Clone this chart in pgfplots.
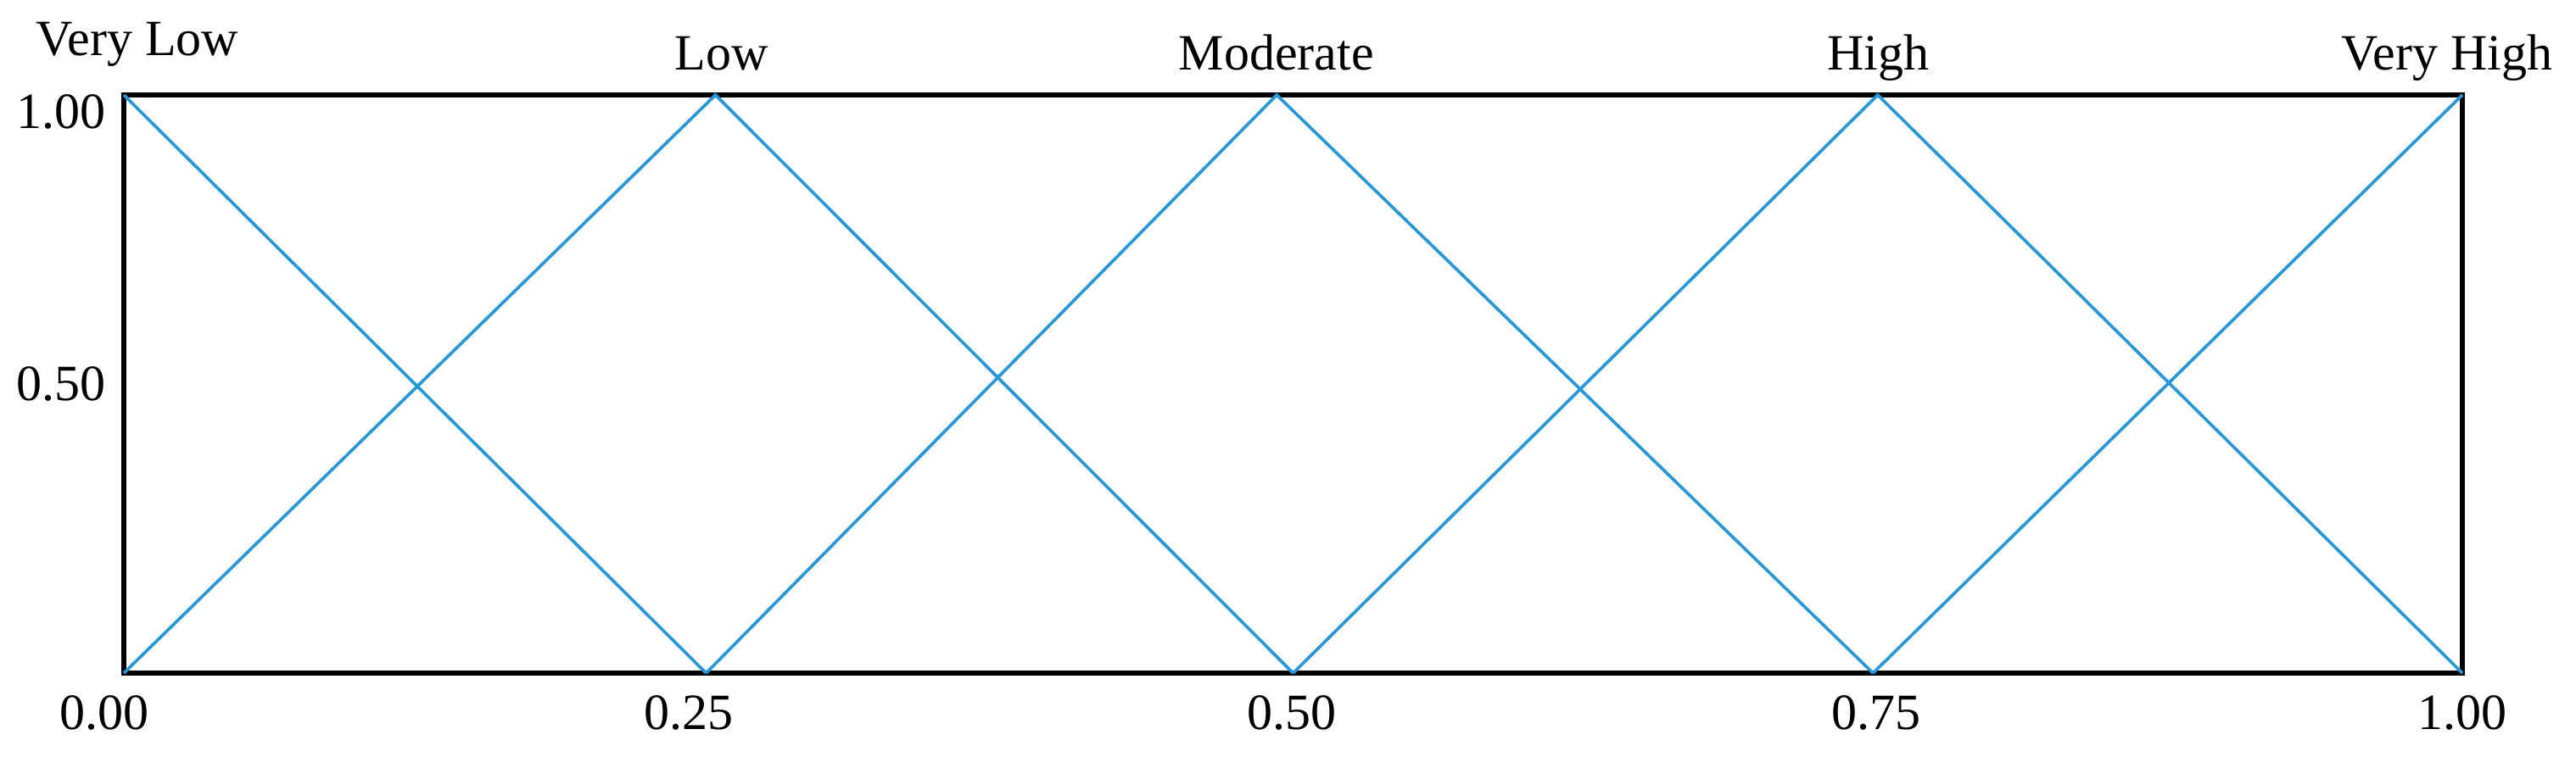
\documentclass[border=0pt]{standalone}
\usepackage{fontspec}
\setmainfont{Liberation Serif}
\usepackage{pgfplots}
\pgfplotsset{compat=1.18}
\definecolor{mfblue}{RGB}{35,152,220}
\begin{document}
\begin{tikzpicture}[font=\fontsize{15}{18}\selectfont]
\useasboundingbox (-36.5pt,-24.5pt) rectangle (722.75pt,198.5pt);
\begin{axis}[
  at={(0,0)}, anchor=south west,
  scale only axis, width=689.25pt, height=170.5pt,
  xmin=0, xmax=1, ymin=0, ymax=1,
  clip=false,
  axis line style={line width=1.3pt, black},
  major tick length=0pt,
  xtick={0,0.2416,0.4995,0.7494,1},
  xticklabels={\hspace*{-11.5pt}0.00,0.25,0.50,0.75,1.00},
  ytick={0.5,0.9707},
  yticklabels={0.50,1.00},
  /pgf/number format/assume math mode=true,
  x tick label style={anchor=north, inner sep=0pt, yshift=-6.5pt},
  y tick label style={anchor=east, inner sep=0pt, xshift=-5.25pt},
  tick label style={font=\fontsize{15}{18}\selectfont},
  every axis plot post/.append style={draw=mfblue, line width=0.9pt, mark=none},
]
% Very Low
\addplot coordinates {(0,1) (0.249,0)};
% Low
\addplot coordinates {(0,0) (0.253,1) (0.500,0)};
% Moderate
\addplot coordinates {(0.249,0) (0.493,1) (0.748,0)};
% High
\addplot coordinates {(0.500,0) (0.750,1) (1,0)};
% Very High
\addplot coordinates {(0.748,0) (1,1)};
\node[anchor=base, yshift=11.75pt] at (axis cs:0.0058,1) {Very Low};
\node[anchor=base, yshift=7.5pt] at (axis cs:0.2557,1) {Low};
\node[anchor=base, yshift=7.5pt] at (axis cs:0.4929,1) {Moderate};
\node[anchor=base, yshift=7.5pt] at (axis cs:0.7501,1) {High};
\node[anchor=base, yshift=7.5pt] at (axis cs:0.9935,1) {Very High};
\end{axis}
\end{tikzpicture}
\end{document}
